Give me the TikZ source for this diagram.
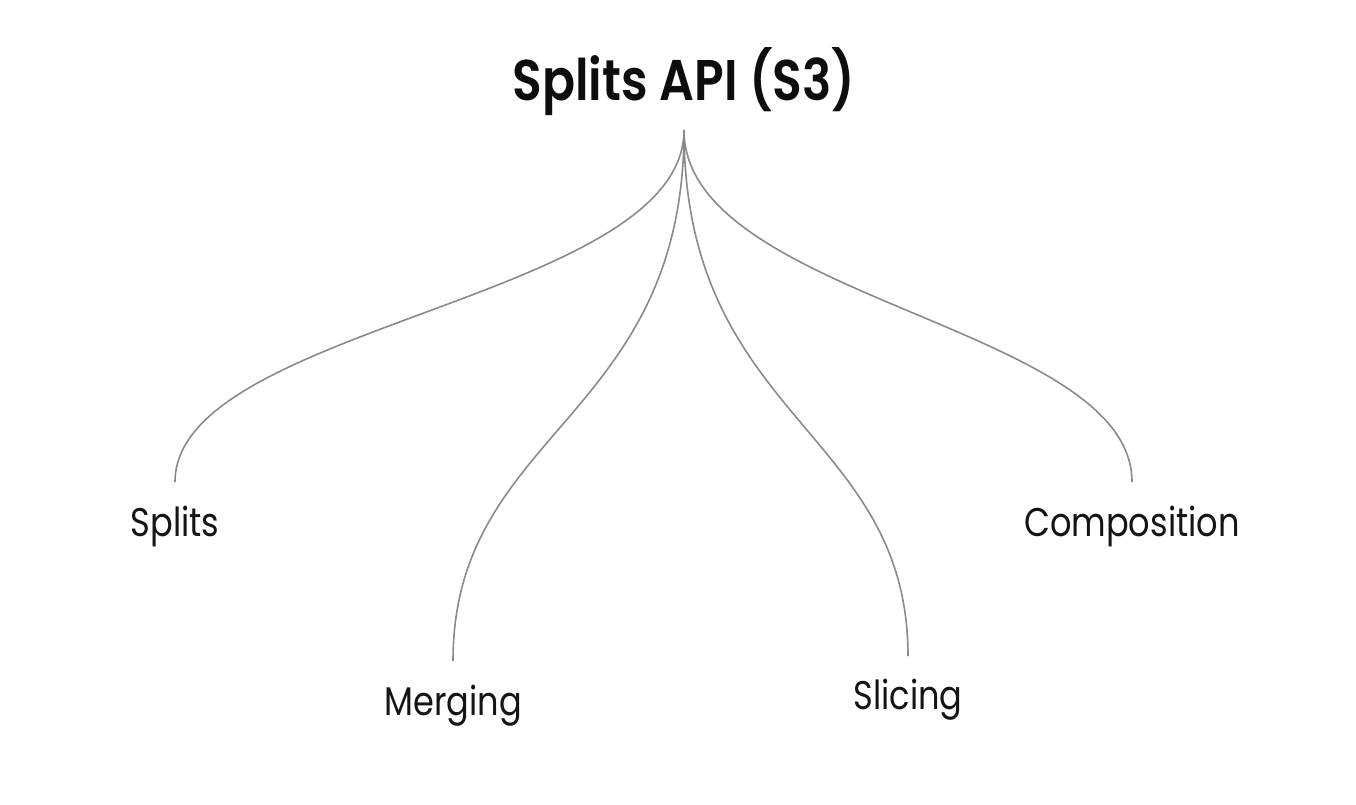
\documentclass[tikz,border=0pt]{standalone}
\usepackage{fontspec}
\setmainfont{Poppins}[FakeStretch=0.84]
\newfontfamily\titlefont{Poppins SemiBold}[FakeStretch=0.85]
\begin{document}
\begin{tikzpicture}[x=0.75pt,y=-0.75pt,
  branch/.style={draw=black!46, line width=1.2pt},
  leaf/.style={text=black!92, font=\fontsize{30}{34}\selectfont, inner sep=0pt},
  titlebox/.style={text=black!95, font=\titlefont\fontsize{43}{50}\selectfont, inner sep=0pt}]
\useasboundingbox (0,0) rectangle (1356,804);
\node[titlebox] (title) at (684,82) {Splits API (S3)};
\coordinate (root) at (684,130);
\coordinate (e1) at (175,482);
\coordinate (e2) at (453,661);
\coordinate (e3) at (908,656);
\coordinate (e4) at (1132,482);
\node[leaf, anchor=north] (splits) at (175,506) {Splits};
\node[leaf, anchor=north] (merging) at (453,685) {Merging};
\node[leaf, anchor=north] (slicing) at (908,679) {Slicing};
\node[leaf, anchor=north] (comp) at (1132,506) {Composition};
\draw[branch] (root) .. controls (684,300) and (175,325) .. (e1);
\draw[branch] (root) .. controls (684,420) and (453,430) .. (e2);
\draw[branch] (root) .. controls (684,420) and (908,430) .. (e3);
\draw[branch] (root) .. controls (684,300) and (1132,325) .. (e4);
\end{tikzpicture}
\end{document}
